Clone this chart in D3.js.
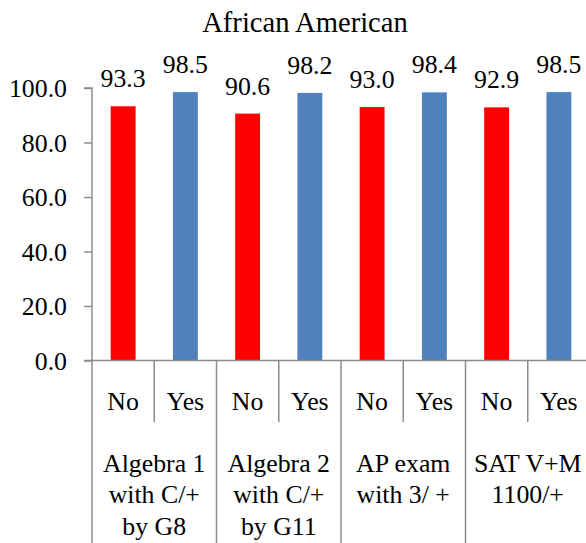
<!DOCTYPE html>
<html>
<head>
<meta charset="utf-8">
<script src="https://cdn.jsdelivr.net/npm/d3@7"></script>
<style>
  html, body { margin: 0; padding: 0; background: #fff; overflow: hidden; }
  svg { display: block; }
</style>
</head>
<body>
<script>
// Outcome groups (multi-line labels) and the No/Yes split within each
const groups = [
  ["Algebra 1", "with C/+", "by G8"],
  ["Algebra 2", "with C/+", "by G11"],
  ["AP exam", "with 3/ +"],
  ["SAT V+M", "1100/+"]
];
const subLabels = ["No", "Yes"];
const noValues = [93.3, 90.6, 93.0, 92.9];
const yesValues = [98.5, 98.2, 98.4, 98.5];
const yTicks = [0, 20, 40, 60, 80, 100];
const title = "African American";

const W = 586, H = 543;
const plotLeft = 92, plotRight = 590, plotTop = 88, plotBottom = 360.5;
const fontSize = 25.8;
const titleSize = 28.6;
const fontFamily = "Liberation Serif";
const axisColor = "#8c8c8c";
const colors = { No: "#ff0000", Yes: "#4f81bd" };

const svg = d3.select("body").append("svg")
  .attr("width", W).attr("height", H)
  .attr("font-family", fontFamily);

// Flatten into one bar per group/sub-category
const rows = [];
groups.forEach((g, i) => {
  subLabels.forEach(s => {
    rows.push({ group: i, sub: s, key: i + "-" + s, value: s === "No" ? noValues[i] : yesValues[i] });
  });
});

const x = d3.scaleBand().domain(rows.map(d => d.key)).range([plotLeft, plotRight]).paddingInner(0).paddingOuter(0);
const y = d3.scaleLinear().domain([0, 100]).range([plotBottom, plotTop]);

const barW = x.bandwidth() * 0.4;

function label(sel) {
  return sel.attr("font-family", fontFamily).attr("font-size", fontSize).attr("fill", "#000");
}

// Title
svg.append("text")
  .attr("x", 305).attr("y", 32)
  .attr("text-anchor", "middle")
  .call(label)
  .attr("font-size", titleSize)
  .text(title);

// Y axis
const yAxis = svg.append("g")
  .attr("transform", `translate(${plotLeft},0)`)
  .call(d3.axisLeft(y).tickValues(yTicks).tickSize(8).tickPadding(17).tickFormat(d3.format(".1f")));
yAxis.attr("font-family", fontFamily).attr("font-size", fontSize);
yAxis.select(".domain").attr("stroke", axisColor).attr("stroke-width", 1.5).attr("d", `M-8,${plotTop}H0V${plotBottom}`);
yAxis.selectAll(".tick line").attr("stroke", axisColor).attr("stroke-width", 1.5);
yAxis.selectAll(".tick text").call(label).attr("dy", "0.34em");

// Bars
svg.append("g").selectAll("rect").data(rows).join("rect")
  .attr("x", d => x(d.key) + (x.bandwidth() - barW) / 2)
  .attr("width", barW)
  .attr("y", d => y(d.value))
  .attr("height", d => y(0) - y(d.value))
  .attr("fill", d => colors[d.sub]);

// Value labels
svg.append("g").selectAll("text").data(rows).join("text")
  .attr("x", d => x(d.key) + x.bandwidth() / 2)
  .attr("y", d => y(d.value) - 19)
  .attr("text-anchor", "middle")
  .call(label)
  .text(d => d.value.toFixed(1));

// Category axis: baseline, dividers and two label tiers
const cat = svg.append("g");
cat.append("line")
  .attr("x1", plotLeft - 8).attr("x2", plotRight).attr("y1", plotBottom).attr("y2", plotBottom)
  .attr("stroke", axisColor).attr("stroke-width", 1.5);

const boundaries = rows.map(d => x(d.key)).concat([plotRight]);
boundaries.forEach((bx, i) => {
  const isGroupEdge = i % 2 === 0;
  cat.append("line")
    .attr("x1", bx).attr("x2", bx)
    .attr("y1", plotBottom).attr("y2", isGroupEdge ? H : 422)
    .attr("stroke", axisColor).attr("stroke-width", 1.5);
});

cat.selectAll("text.sub").data(rows).join("text")
  .attr("class", "sub")
  .attr("x", d => x(d.key) + x.bandwidth() / 2)
  .attr("y", 410)
  .attr("text-anchor", "middle")
  .call(label)
  .text(d => d.sub);

groups.forEach((lines, i) => {
  const cx = x(i + "-No") + x.bandwidth();
  const t = cat.append("text")
    .attr("text-anchor", "middle")
    .call(label);
  lines.forEach((ln, j) => {
    t.append("tspan").attr("x", cx).attr("y", 472 + j * 31.3).text(ln);
  });
});
</script>
</body>
</html>
